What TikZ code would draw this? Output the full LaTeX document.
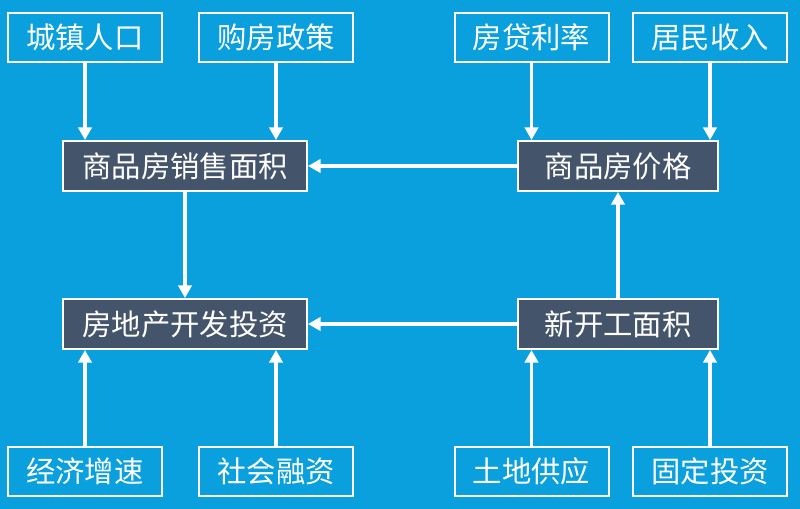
\documentclass[tikz,border=0pt]{standalone}
\usepackage{fontspec}
\usetikzlibrary{arrows.meta}
\newfontfamily\cjk{Noto Sans CJK SC}
\definecolor{skyblue}{RGB}{10,160,222}
\definecolor{slate}{RGB}{68,84,106}

\begin{document}
\begin{tikzpicture}[
  x=0.75pt, y=-0.75pt,
  box/.style={draw=white, line width=1.5pt, text=white, inner sep=0pt,
    font=\cjk\fontsize{22}{22}\selectfont},
  factor/.style={box, fill=skyblue, minimum width=115.5pt, minimum height=36.75pt},
  core/.style={box, fill=slate, minimum height=37.5pt},
  link/.style={draw=white, line width=2.8pt, -{Triangle[length=9.5pt,width=10pt]}},
]
  \fill[skyblue] (0,0) rectangle (800,509);

  \node[factor] (town) at (85, 37.5) {城镇人口};
  \node[factor] (policy) at (276, 37.5) {购房政策};
  \node[factor] (rate) at (531.5, 37.5) {房贷利率};
  \node[factor] (income) at (710, 37.5) {居民收入};

  \node[core, minimum width=183pt] (sales) at (185, 166) {商品房销售面积};
  \node[core, minimum width=150pt] (price) at (618, 166) {商品房价格};
  \node[core, minimum width=183pt] (invest) at (185, 324) {房地产开发投资};
  \node[core, minimum width=150pt] (start) at (618, 324) {新开工面积};

  \node[factor] (growth) at (85, 471.5) {经济增速};
  \node[factor] (finance) at (276, 471.5) {社会融资};
  \node[factor] (land) at (531.5, 471.5) {土地供应};
  \node[factor] (fixed) at (710, 471.5) {固定投资};

  \draw[link] (town.south) -- (town.south |- sales.north);
  \draw[link] (policy.south) -- (policy.south |- sales.north);
  \draw[link] (rate.south) -- (rate.south |- price.north);
  \draw[link] (income.south) -- (income.south |- price.north);

  \draw[link] (price) -- (sales);
  \draw[link] (start) -- (invest);
  \draw[link] (sales) -- (invest);
  \draw[link] (start) -- (price);

  \draw[link] (growth.north) -- (growth.north |- invest.south);
  \draw[link] (finance.north) -- (finance.north |- invest.south);
  \draw[link] (land.north) -- (land.north |- start.south);
  \draw[link] (fixed.north) -- (fixed.north |- start.south);
\end{tikzpicture}
\end{document}
